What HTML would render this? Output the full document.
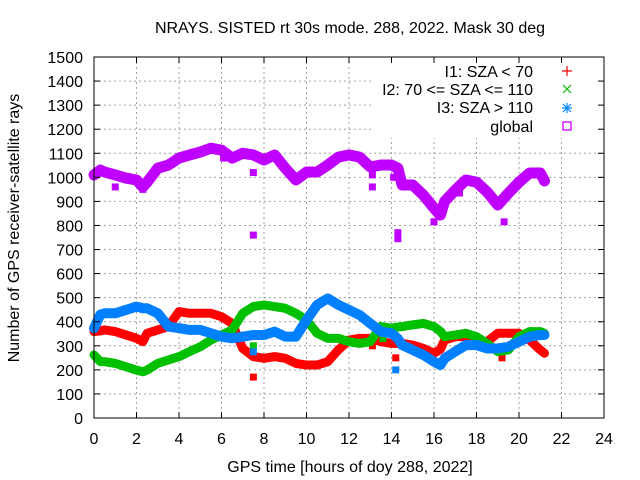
<!DOCTYPE html>
<html><head><meta charset="utf-8"><style>
body{margin:0;background:#fff}
svg{display:block;font-family:"Liberation Sans",sans-serif}
</style></head><body>
<svg id="chart" width="640" height="480" viewBox="0 0 640 480">
<g id="grid"></g>
<g id="series"></g>
<rect x="374" y="60" width="228" height="78" fill="#fff"/>
<rect x="94" y="57" width="510" height="361" fill="none" stroke="#000" stroke-width="1"/>
<g id="ticks"></g>
<text x="350" y="33" font-size="16" text-anchor="middle">NRAYS. SISTED rt 30s mode. 288, 2022. Mask 30 deg</text>
<text x="350" y="472" font-size="16" text-anchor="middle">GPS time [hours of doy 288, 2022]</text>
<text x="0" y="0" font-size="16" text-anchor="middle" transform="translate(19,228) rotate(-90)">Number of GPS receiver-satellite rays</text>
<g font-size="16" text-anchor="end">
<g><text x="533" y="77">I1: SZA &lt; 70</text><path d="M562 71h10M567 66v10" stroke="#f00" stroke-width="1.2"/></g>
<g><text x="533" y="95">I2: 70 &lt;= SZA &lt;= 110</text><path d="M563 85l8 8M571 85l-8 8" stroke="#0b0" stroke-width="1.2"/></g>
<g><text x="533" y="113">I3: SZA &gt; 110</text><path d="M562 108h10M567 103v10M563 104l8 8M571 104l-8 8" stroke="#08f" stroke-width="1.2"/></g>
<g><text x="533" y="132">global</text><rect x="563" y="122" width="8" height="8" fill="none" stroke="#c0f" stroke-width="1.3"/></g>
</g>
</svg>
<script>
const hours=[0,0.3,0.5,1,1.5,2,2.3,2.5,3,3.5,4,4.5,5,5.5,6,6.5,7,7.5,8,8.5,9,9.5,10,10.5,11,11.5,12,12.5,13,13.5,14,14.3,14.5,15,15.5,16,16.3,16.5,17,17.5,18,18.5,19,19.5,20,20.5,21,21.2];
const redVals=[359,362,366,359,345,331,317,352,366,380,442,435,435,435,421,393,289,255,248,255,248,227,220,220,234,283,324,331,331,317,310,310,310,303,289,269,285,324,338,338,324,317,352,352,352,324,283,269];
const greenVals=[262,234,234,227,213,199,192,199,227,241,255,276,296,324,345,366,435,463,470,463,456,435,407,352,331,331,317,310,317,380,373,378,380,387,393,380,360,338,345,352,338,310,276,283,338,359,359,352];
const blueVals=[373,430,435,435,449,463,456,456,435,380,373,366,366,352,338,331,338,345,345,359,338,338,407,470,497,470,449,428,393,359,352,330,303,283,262,234,220,248,276,303,303,289,289,296,317,338,345,345];
const globalVals=[1010,1030,1022,1010,997,989,960,980,1038,1051,1080,1093,1105,1121,1113,1080,1100,1093,1072,1093,1038,989,1022,1022,1051,1084,1093,1084,1043,1051,1051,1038,968,968,926,872,843,900,947,989,980,939,885,934,980,1018,1018,985];
const redOut=[[7.5,170],[14.2,250],[19.2,250],[13.1,300],[11.7,320]];
const greenOut=[[7.5,300],[13.6,330]];
const blueOut=[[14.2,200],[7.5,275]];
const globalOut=[[7.5,760],[7.5,1020],[14.3,745],[14.3,770],[16,815],[19.3,815],[1,960],[13.1,960],[13.1,1010],[14.1,1000],[2.3,950],[6.1,1080],[17.2,935]];
const xTicks=[0,2,4,6,8,10,12,14,16,18,20,22,24];
const yTicks=[0,100,200,300,400,500,600,700,800,900,1000,1100,1200,1300,1400,1500];
const NS='http://www.w3.org/2000/svg';
const X=h=>94+h*510/24;
const Y=v=>418-v*361/1500;
function mk(tag,attrs,parent){const e=document.createElementNS(NS,tag);for(const k in attrs)e.setAttribute(k,attrs[k]);parent.appendChild(e);return e;}
const grid=document.getElementById('grid'),ticks=document.getElementById('ticks'),ser=document.getElementById('series');
xTicks.forEach(t=>{
 if(t>0&&t<24){const l=mk('line',{x1:X(t),x2:X(t),y1:57,y2:418,stroke:'#a0a0a0','stroke-dasharray':'2,3'},grid);
 
 }
 mk('line',{x1:X(t),x2:X(t),y1:418,y2:412,stroke:'#000'},ticks);
 mk('line',{x1:X(t),x2:X(t),y1:57,y2:63,stroke:'#000'},ticks);
 const tx=mk('text',{x:X(t),y:444,'font-size':16,'text-anchor':'middle'},ticks);tx.textContent=t;
 
 
});
yTicks.forEach(t=>{
 if(t>0&&t<1500){const l=mk('line',{x1:94,x2:604,y1:Y(t),y2:Y(t),stroke:'#a0a0a0','stroke-dasharray':'2,3'},grid);
 
 }
 mk('line',{x1:94,x2:100,y1:Y(t),y2:Y(t),stroke:'#000'},ticks);
 mk('line',{x1:604,x2:598,y1:Y(t),y2:Y(t),stroke:'#000'},ticks);
 const tx=mk('text',{x:83,y:Y(t)+6,'font-size':16,'text-anchor':'end'},ticks);tx.textContent=t;
 
 
});
function series(vals,out,color,name,w){
 const g=mk('g',{},ser);
 
 
 const pts=hours.map((h,i)=>X(h)+','+Y(vals[i])).join(' ');
 mk('polyline',{points:pts,fill:'none',stroke:color,'stroke-width':w,'stroke-linejoin':'round','stroke-linecap':'round'},g);
 out.forEach(p=>{
  const r=mk('rect',{x:X(p[0])-3.5,y:Y(p[1])-3.5,width:7,height:7,fill:color},g);
  
  
 });
}
series(redVals,redOut,'#f00','series-i1',9);
series(greenVals,greenOut,'#00c000','series-i2',9);
series(blueVals,blueOut,'#0080ff','series-i3',10);
series(globalVals,globalOut,'#c000ff','series-global',11);
</script>
</body></html>
